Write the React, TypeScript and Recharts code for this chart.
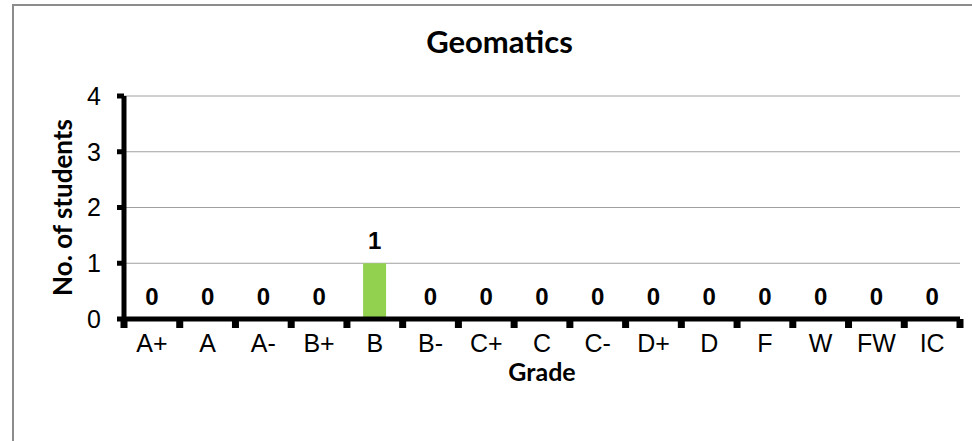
import React from "react";
import { ComposedChart, Bar, Line, XAxis, YAxis, CartesianGrid, LabelList } from "recharts";

const GRADES = ["A+", "A", "A-", "B+", "B", "B-", "C+", "C", "C-", "D+", "D", "F", "W", "FW", "IC"];
const STUDENTS = [0, 0, 0, 0, 1, 0, 0, 0, 0, 0, 0, 0, 0, 0, 0];
const Y_TICKS = [0, 1, 2, 3, 4];

const data = GRADES.map((grade, i) => ({ grade, students: STUDENTS[i] }));

const labelFont = "'Liberation Sans', Arial, sans-serif";
const titleFont = "Lato, 'Open Sans', sans-serif";

// grade label in the middle, tick marks on the category boundaries
function GradeTick(props: any) {
  const { x, y, payload, index, visibleTicksCount } = props;
  const half = payload.offset || 0;
  return (
    <g>
      <rect x={x - half - 3.5} y={y} width={7} height={9} fill="#000" />
      {index === visibleTicksCount - 1 && <rect x={x + half - 3.5} y={y} width={7} height={9} fill="#000" />}
      <text x={x} y={y + 33} textAnchor="middle" fontFamily={labelFont} fontSize={25} fill="#000">
        {payload.value}
      </text>
    </g>
  );
}

function ValueLabel(props: any) {
  const { x, y, value } = props;
  return (
    <text x={x} y={y - 14} textAnchor="middle" fontFamily={labelFont} fontWeight={700} fontSize={24} fill="#000">
      {String(value)}
    </text>
  );
}

export default function App() {
  return (
    <div style={{ position: "absolute", left: 0, top: 0, width: 972, height: 441, background: "#fff", overflow: "hidden", fontFamily: labelFont }}>
      <div style={{ position: "absolute", left: 12, top: 4, width: 1000, height: 500, borderTop: "2px solid #8c8c8c", borderLeft: "2px solid #8c8c8c" }} />
      <div style={{ position: "absolute", left: 0, top: 22, width: 999, textAlign: "center", fontFamily: titleFont, fontWeight: 700, fontSize: 31, color: "#000" }}>
        Geomatics
      </div>
      <div style={{ position: "absolute", left: 0, top: 0 }}>
        <ComposedChart width={972} height={441} data={data} margin={{ top: 96, right: 12, bottom: 62, left: 0 }} barCategoryGap="29%">
          <CartesianGrid horizontal vertical={false} stroke="#a0a0a0" strokeWidth={1} />
          <XAxis
            dataKey="grade"
            interval={0}
            tickLine={false}
            tickSize={0}
            tickMargin={0}
            tick={<GradeTick />}
            axisLine={{ stroke: "#000", strokeWidth: 5 }}
            height={60}
            label={{
              content: ({ viewBox }: any) => (
                <text x={viewBox.x + viewBox.width / 2} y={viewBox.y + 62} textAnchor="middle" fontFamily={titleFont} fontWeight={700} fontSize={25} fill="#000">
                  Grade
                </text>
              ),
            }}
          />
          <YAxis
            domain={[0, 4]}
            ticks={Y_TICKS}
            interval={0}
            width={124}
            tickSize={7}
            tickLine={{ stroke: "#000", strokeWidth: 5 }}
            axisLine={{ stroke: "#000", strokeWidth: 5 }}
            tick={{ fill: "#000", fontSize: 25, fontFamily: labelFont }}
            tickMargin={16}
            label={{
              content: ({ viewBox }: any) => {
                const cx = viewBox.x + 62;
                const cy = viewBox.y + viewBox.height / 2;
                return (
                  <text x={cx} y={cy} transform={`rotate(-90 ${cx} ${cy})`} textAnchor="middle" dominantBaseline="central" fontFamily={titleFont} fontWeight={700} fontSize={26} fill="#000">
                    No. of students
                  </text>
                );
              },
            }}
          />
          <Bar dataKey="students" fill="#92D050" isAnimationActive={false} />
          {/* invisible series that only carries the value labels, zeros included */}
          <Line dataKey="students" stroke="none" dot={false} activeDot={false} isAnimationActive={false}>
            <LabelList dataKey="students" content={<ValueLabel />} />
          </Line>
        </ComposedChart>
      </div>
    </div>
  );
}
